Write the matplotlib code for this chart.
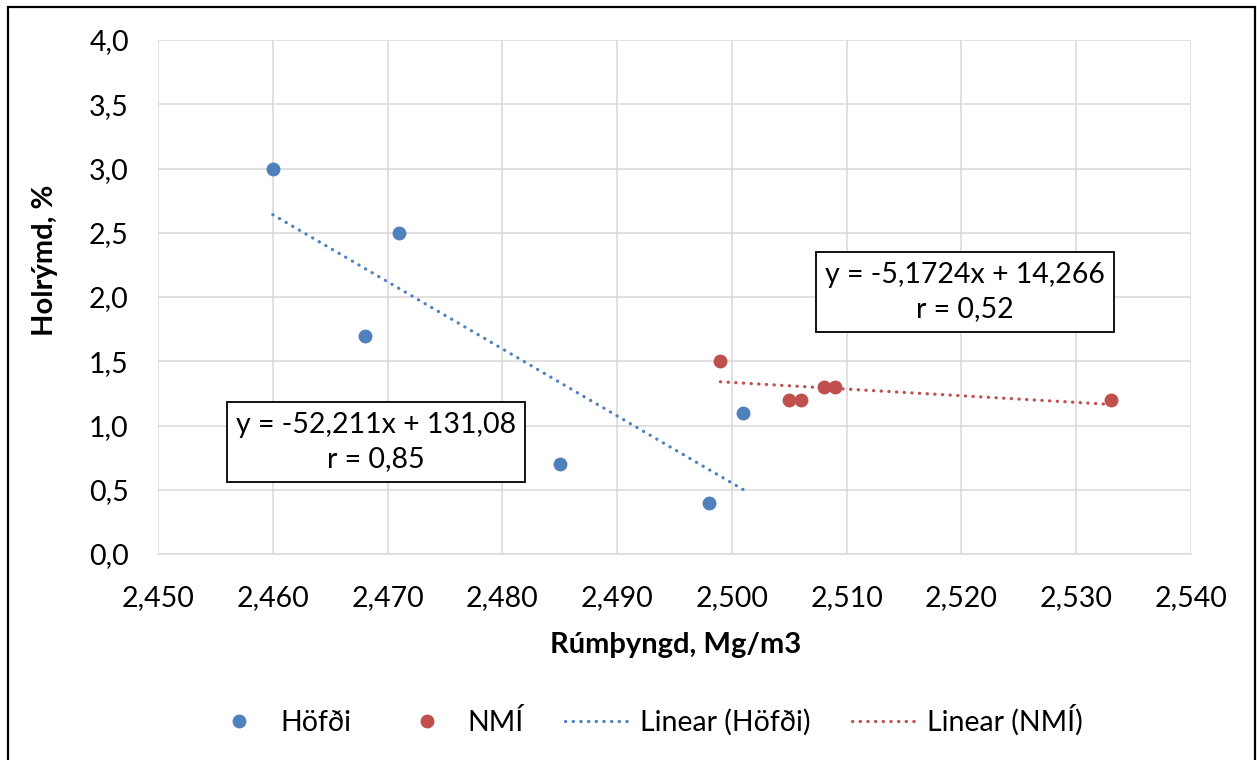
import matplotlib
matplotlib.use("Agg")
import matplotlib.pyplot as plt
from matplotlib.lines import Line2D
from matplotlib.patches import Rectangle
import numpy as np

plt.rcParams['font.family'] = ['Lato', 'DejaVu Sans']

# Density (Mg/m3) and air voids (%) per source
hofdi_x = [2.460, 2.468, 2.471, 2.485, 2.498, 2.501]
hofdi_y = [3.0, 1.7, 2.5, 0.7, 0.4, 1.1]
nmi_x = [2.499, 2.505, 2.506, 2.508, 2.509, 2.533]
nmi_y = [1.5, 1.2, 1.2, 1.3, 1.3, 1.2]

# Linear trend coefficients and correlation
hofdi_fit = (-52.211, 131.08)
nmi_fit = (-5.1724, 14.266)
hofdi_r = 0.85
nmi_r = 0.52

x_ticks = [2.450, 2.460, 2.470, 2.480, 2.490, 2.500, 2.510, 2.520, 2.530, 2.540]
y_ticks = [0.0, 0.5, 1.0, 1.5, 2.0, 2.5, 3.0, 3.5, 4.0]

series_names = ["Höfði", "NMÍ"]
trend_names = ["Linear (Höfði)", "Linear (NMÍ)"]
x_label = "Rúmþyngd, Mg/m3"
y_label = "Holrýmd, %"

BLUE = "#4F81BD"
RED = "#C0504D"
GRID = "#D9D9D9"

W, H = 1257, 760
fig = plt.figure(figsize=(W / 100, H / 100), dpi=100)
ax = fig.add_axes([158 / W, 1 - 554 / H, (1191 - 158) / W, (554 - 40) / H])

ax.set_xlim(x_ticks[0], x_ticks[-1])
ax.set_ylim(y_ticks[0], y_ticks[-1])
ax.set_xticks(x_ticks)
ax.set_yticks(y_ticks)
ax.set_xticklabels([f"{v:.3f}".replace(".", ",") for v in x_ticks])
ax.set_yticklabels([f"{v:.1f}".replace(".", ",") for v in y_ticks])
ax.tick_params(length=0, labelsize=20.5, colors="black")
ax.tick_params(axis="y", pad=21)
ax.tick_params(axis="x", pad=22)
ax.grid(True, color=GRID, linewidth=1.1)
ax.set_axisbelow(True)
for side in ["top", "right", "left"]:
    ax.spines[side].set_visible(False)
ax.spines["bottom"].set_color(GRID)
ax.spines["bottom"].set_linewidth(1.1)

dot_style = dict(linestyle=(0, (0.1, 2.3)), linewidth=2.3, dash_capstyle="round")

# trend lines over each series' x range
for xs, fit, col in [(hofdi_x, hofdi_fit, BLUE), (nmi_x, nmi_fit, RED)]:
    xr = np.array([min(xs), max(xs)])
    ax.plot(xr, fit[0] * xr + fit[1], color=col, zorder=3, **dot_style)

ax.scatter(hofdi_x, hofdi_y, s=100, color=BLUE, zorder=4, linewidths=0)
ax.scatter(nmi_x, nmi_y, s=100, color=RED, zorder=4, linewidths=0)

def fmt(v, nd):
    return f"{v:.{nd}f}".replace(".", ",")

eq1 = f"y = {fmt(hofdi_fit[0], 3)}x + {fmt(hofdi_fit[1], 2)}\nr = {fmt(hofdi_r, 2)}"
eq2 = f"y = {fmt(nmi_fit[0], 4)}x + {fmt(nmi_fit[1], 3)}\nr = {fmt(nmi_r, 2)}"
box = dict(boxstyle="square,pad=0.33", facecolor="white", edgecolor="black", linewidth=1.3)
fig.text(376 / W, 1 - 442 / H, eq1, ha="center", va="center", fontsize=20.5,
         linespacing=1.4, bbox=box, zorder=10)
fig.text(965 / W, 1 - 292 / H, eq2, ha="center", va="center", fontsize=20.5,
         linespacing=1.4, bbox=box, zorder=10)

fig.text(676 / W, 1 - 645 / H, x_label, ha="center", va="center",
         fontsize=21, fontweight="bold")
fig.text(45 / W, 1 - 260 / H, y_label, ha="center", va="center",
         fontsize=21, fontweight="bold", rotation=90)

handles = [
    Line2D([], [], linestyle="none", marker="o", markersize=10, color=BLUE, markeredgewidth=0),
    Line2D([], [], linestyle="none", marker="o", markersize=10, color=RED, markeredgewidth=0),
    Line2D([], [], color=BLUE, **dot_style),
    Line2D([], [], color=RED, **dot_style),
]
fig.legend(handles, series_names + trend_names, loc="center", ncol=4,
           bbox_to_anchor=(644 / W, 1 - 720 / H), frameon=False, fontsize=20.5,
           handlelength=2.4, handletextpad=0.24, columnspacing=1.45)

# outer chart border
fig.add_artist(Rectangle((8 / W, -0.05), (1255 - 8) / W, 1.05 - 7 / H,
                         transform=fig.transFigure, fill=False,
                         edgecolor="black", linewidth=1.6))

fig.savefig("out.png", dpi=100)
